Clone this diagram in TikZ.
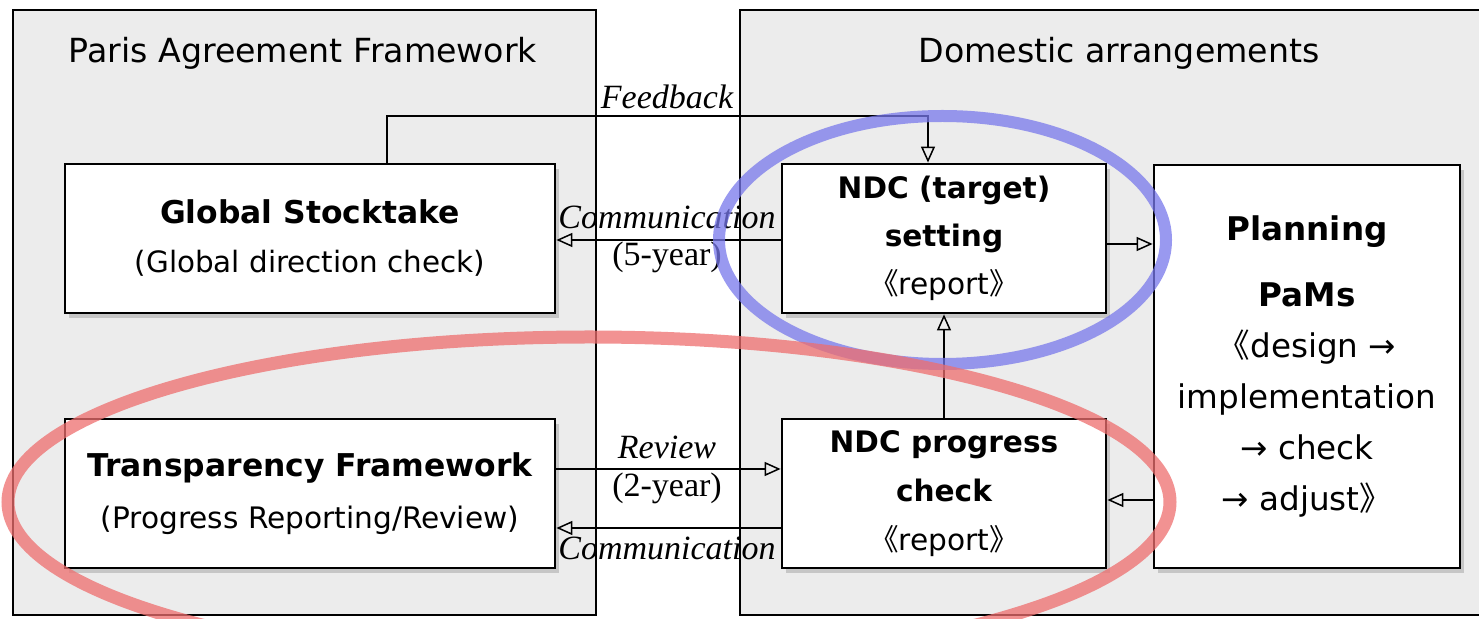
\documentclass[tikz,border=0pt]{standalone}
\usepackage{fontspec}
\setmainfont{DejaVu Sans}
\newfontfamily\tms{Liberation Serif}
\newfontfamily\cjk{Noto Sans CJK JP}
\usetikzlibrary{arrows.meta,shadows}
\definecolor{contgray}{RGB}{236,236,236}
\definecolor{blueE}{RGB}{120,120,235}
\definecolor{redE}{RGB}{238,110,110}
\newcommand{\opq}{{\cjk 《}}
\newcommand{\clq}{{\cjk 》}}
\begin{document}
\begin{tikzpicture}[x=0.5pt,y=-0.5pt,
  container/.style={draw=black,line width=1.2pt,fill=contgray},
  box/.style={draw=black,line width=1.4pt,fill=white,align=center,inner sep=0pt,
    drop shadow={shadow xshift=2pt,shadow yshift=-2.5pt,opacity=0.35}},
  conn/.style={line width=0.75pt,-{Triangle[open,length=8pt,width=7pt]}},
  lab/.style={font=\tms\fontsize{17}{20}\selectfont\itshape,inner sep=0pt},
  ulab/.style={font=\tms\fontsize{17}{20}\selectfont,inner sep=0pt},
  title/.style={font=\fontsize{16.6}{20}\selectfont,inner sep=0pt},
  ring/.style={line width=6pt,opacity=0.75}]
\useasboundingbox (0,0) rectangle (1479,619);
\clip (0,0) rectangle (1479,619);
\fill[white] (0,0) rectangle (1479,619);
% containers
\draw[container] (13,10) rectangle (596,615);
\draw[container] (740,10) rectangle (1500,615);
\node[title] (t1) at (303,53) {Paris Agreement Framework};
\node[title] (t2) at (1119,53) {Domestic arrangements};
% boxes
\node[box,minimum width=245pt,minimum height=74.5pt,font=\fontsize{14.7}{24.5}\selectfont]
  (GS) at (310,238.5) {{\fontsize{15.7}{24.5}\selectfont\bfseries Global Stocktake}\\(Global direction check)};
\node[box,minimum width=245pt,minimum height=74.5pt,font=\fontsize{14.8}{26}\selectfont]
  (TF) at (310,493.5) {{\fontsize{15.7}{26}\selectfont\bfseries Transparency Framework}\\(Progress Reporting/Review)};
\node[box,minimum width=162pt,minimum height=74.5pt,font=\fontsize{14.8}{24}\selectfont]
  (NT) at (944,238.5) {{\bfseries NDC (target)}\\{\bfseries setting}\\\opq report\clq};
\node[box,minimum width=162pt,minimum height=74.5pt,font=\fontsize{14.8}{24.5}\selectfont]
  (NP) at (944,493.5) {{\bfseries NDC progress}\\{\bfseries check}\\\opq report\clq};
\node[box,minimum width=153pt,minimum height=201.5pt,font=\fontsize{16.3}{25.5}\selectfont]
  (PL) at (1307,366.5) {{\bfseries Planning}\\[7.5pt]{\bfseries PaMs}\\\opq design →\\implementation\\→ check\\→ adjust\clq};
% connector coordinates
\coordinate (fbx) at (387,116);
\coordinate (fbr) at (928,116);
\coordinate (c5y) at (667,240);
\coordinate (npy) at (1130,244);
\coordinate (rvy) at (667,469);
\coordinate (cmy) at (667,528);
\coordinate (ply) at (1130,500);
% connectors
\draw[conn] (GS.north -| fbx) -- (fbx) -- (fbr) -- (NT.north -| fbr);
\draw[conn] (NT.west |- c5y) -- (GS.east |- c5y);
\draw[conn] (NT.east |- npy) -- (PL.west |- npy);
\draw[conn] (NP.north) -- (NT.south);
\draw[conn] (PL.west |- ply) -- (NP.east |- ply);
\draw[conn] (TF.east |- rvy) -- (NP.west |- rvy);
\draw[conn] (NP.west |- cmy) -- (TF.east |- cmy);
% labels
\node[lab] (fb) at (667,97) {Feedback};
\node[lab] (c5) at (667,217) {Communication};
\node[ulab] (y5) at (667,257) {(5-year)};
\node[lab] (rv) at (667,447) {Review};
\node[ulab] (y2) at (667,488) {(2-year)};
\node[lab] (cm) at (667,548) {Communication};
% highlight rings
\draw[ring,draw=blueE] (942.5,240) ellipse [x radius=111.75pt,y radius=62pt];
\draw[ring,draw=redE,line width=6.5pt] (589,502) ellipse [x radius=290.5pt,y radius=82.5pt];
\end{tikzpicture}
\end{document}
